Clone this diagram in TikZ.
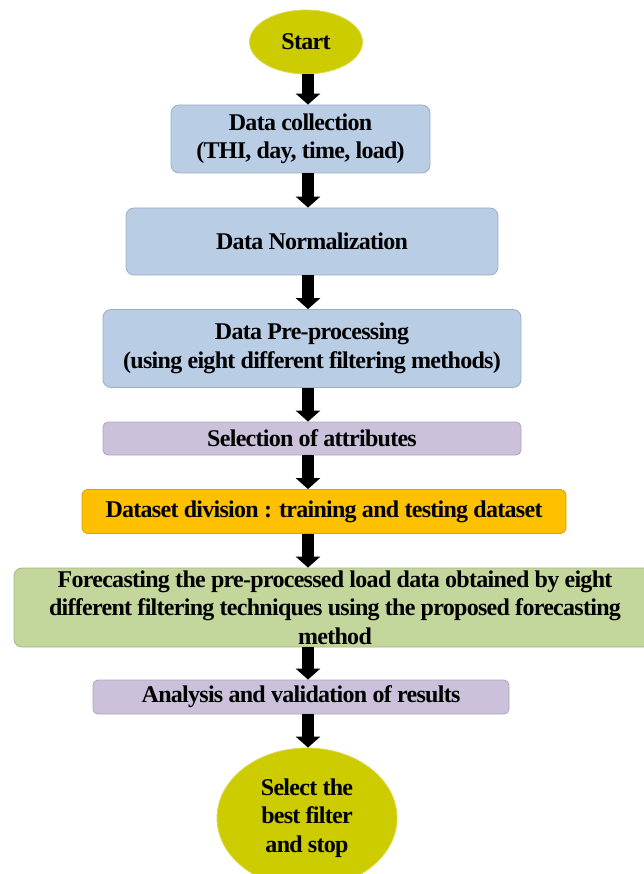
\documentclass[tikz,border=0pt]{standalone}
\usepackage{fontspec}
\setmainfont{Liberation Serif}[LetterSpace=-3]
\usepackage{tikz}
\usetikzlibrary{arrows.meta, shapes.geometric, positioning}
\usepackage{xcolor}

\definecolor{termyellow}{HTML}{CCCC00}
\definecolor{stepblue}{HTML}{B9CDE5}
\definecolor{steppurple}{HTML}{CCC1DA}
\definecolor{steporange}{HTML}{FFC000}
\definecolor{stepgreen}{HTML}{C3D69B}

\tikzset{
  term/.style={ellipse, fill=termyellow, draw=termyellow!70!white, line width=0.8pt, align=center, inner sep=0pt},
  stepbox/.style={rectangle, rounded corners=8pt, line width=0.8pt, align=center, inner sep=0pt},
  flow/.style={line width=12pt, -{Triangle[width=24pt,length=11pt]}}
}

\begin{document}
\begin{tikzpicture}[x=1pt, y=1pt, font=\fontsize{24}{28.5}\selectfont\bfseries]
  \useasboundingbox (0,0) rectangle (643,-874);

  % start and data steps
  \node[term, minimum width=113, minimum height=64] (start) at (306,-42) {Start};
  \node[stepbox, fill=stepblue, draw=stepblue!85!black, minimum width=259, minimum height=68] (collect) at (300.5,-139) {Data collection\\(THI, day, time, load)};
  \node[stepbox, fill=stepblue, draw=stepblue!85!black, minimum width=372, minimum height=67] (norm) at (312,-241.5) {Data Normalization};
  \node[stepbox, fill=stepblue, draw=stepblue!85!black, minimum width=418, minimum height=78] (prep) at (312,-348.5) {Data Pre-processing\\(using eight different filtering methods)};

  % selection and division
  \node[stepbox, rounded corners=5pt, fill=steppurple, draw=steppurple!85!black, minimum width=418, minimum height=33] (select) at (312,-438.5) {Selection of attributes};
  \node[stepbox, rounded corners=6pt, fill=steporange, draw=steporange!85!black, minimum width=484, minimum height=44] (divide) at (324,-511.5) {Dataset division : training and testing dataset};

  % forecasting and analysis
  \node[stepbox, fill=stepgreen, draw=stepgreen!85!black, minimum width=642, minimum height=79] (forecast) at (335,-607.5) {Forecasting the pre-processed load data obtained by eight\\different filtering techniques using the proposed forecasting\\method};
  \node[stepbox, rounded corners=5pt, fill=steppurple, draw=steppurple!85!black, minimum width=416, minimum height=34] (analyse) at (301,-697) {Analysis and validation of results};
  \node[term, minimum width=180, minimum height=140] (stop) at (307,-818) {Select the\\best filter\\and stop};

  % arrows on one vertical axis
  \coordinate (axis) at (308,0);
  \draw[flow] (start.south -| axis) -- (collect.north -| axis);
  \draw[flow] (collect.south -| axis) -- (norm.north -| axis);
  \draw[flow] (norm.south -| axis) -- (prep.north -| axis);
  \draw[flow] (prep.south -| axis) -- (select.north -| axis);
  \draw[flow] (select.south -| axis) -- (divide.north -| axis);
  \draw[flow] (divide.south -| axis) -- (forecast.north -| axis);
  \draw[flow] (forecast.south -| axis) -- (analyse.north -| axis);
  \draw[flow] (analyse.south -| axis) -- (stop.north -| axis);
\end{tikzpicture}
\end{document}
